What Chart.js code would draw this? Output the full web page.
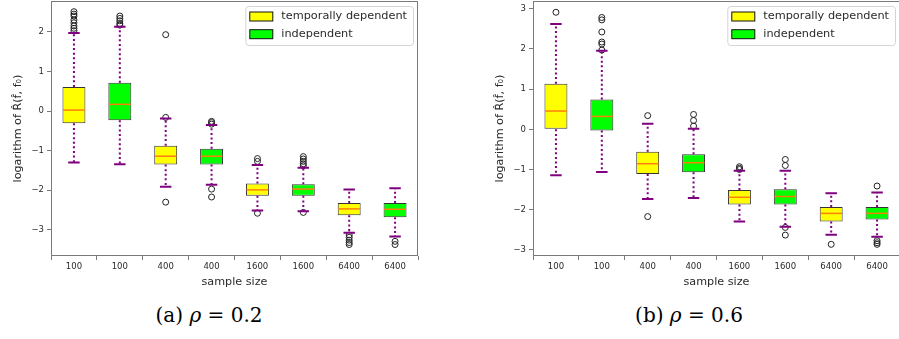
<!DOCTYPE html>
<html>
<head>
<meta charset="utf-8">
<script src="https://cdn.jsdelivr.net/npm/chart.js@4.4.1/dist/chart.umd.min.js"></script>
<style>
html,body{margin:0;padding:0;background:#fff;overflow:hidden;width:899px;height:339px;}
#wrapA{position:absolute;left:0;top:-3px;width:430px;height:303px;}
#wrapB{position:absolute;left:482px;top:-3px;width:422px;height:303px;}
.cap{position:absolute;top:302px;font-family:"DejaVu Serif","Liberation Serif",serif;font-size:20px;line-height:26px;color:#000;white-space:nowrap;transform:translateX(-50%);}
.cap i{font-style:italic;}
</style>
</head>
<body>
<div id="wrapA"><canvas id="chartA" width="430" height="303"></canvas></div>
<div id="wrapB"><canvas id="chartB" width="422" height="303"></canvas></div>
<div class="cap" style="left:209px;">(a) <i>ρ</i> = 0.2</div>
<div class="cap" style="left:689px;">(b) <i>ρ</i> = 0.6</div>
<script>
// ---------- data ----------
const categories = ["100","100","400","400","1600","1600","6400","6400"];
const seriesNames = ["temporally dependent","independent"];
const yTicksA = [-3,-2,-1,0,1,2];
const yTicksB = [-3,-2,-1,0,1,2,3];
const xTitle = "sample size";
const yTitle = "logarithm of R\u0302(f\u0302, f\u2080)";

// (a) rho = 0.2
const a_whiskLow  = [-1.30,-1.34,-1.91,-1.86,-2.51,-2.53,-3.07,-3.17];
const a_q1        = [-0.31,-0.23,-1.35,-1.35,-2.14,-2.14,-2.63,-2.68];
const a_median    = [0.025,0.17,-1.14,-1.14,-1.99,-1.97,-2.47,-2.48];
const a_q3        = [0.61,0.715,-0.875,-0.95,-1.83,-1.85,-2.32,-2.32];
const a_whiskHigh = [1.97,2.13,-0.185,-0.35,-1.36,-1.43,-1.98,-1.95];
const a_outliers = [
  [2.03,2.09,2.15,2.23,2.30,2.40,2.45,2.51],
  [2.17,2.21,2.28,2.34,2.40],
  [1.93,-0.16,-2.30],
  [-0.26,-0.29,-0.33,-1.97,-2.17],
  [-1.20,-1.27,-2.58],
  [-1.15,-1.21,-1.27,-1.33,-1.38,-2.56],
  [-3.13,-3.19,-3.26,-3.32,-3.37],
  [-3.29,-3.37]
];

// (b) rho = 0.6
const b_whiskLow  = [-1.145,-1.06,-1.735,-1.71,-2.29,-2.42,-2.62,-2.67];
const b_q1        = [0.0,-0.03,-1.11,-1.07,-1.87,-1.87,-2.29,-2.24];
const b_median    = [0.455,0.32,-0.855,-0.83,-1.69,-1.67,-2.09,-2.09];
const b_q3        = [1.135,0.74,-0.56,-0.62,-1.51,-1.49,-1.93,-1.93];
const b_whiskHigh = [2.62,1.95,0.14,0.015,-1.03,-1.03,-1.59,-1.57];
const b_outliers = [
  [2.91],
  [1.97,2.12,2.17,2.42,2.72,2.78],
  [0.34,-2.17],
  [0.08,0.22,0.37],
  [-0.93,-0.97,-1.0],
  [-0.75,-0.9,-2.44,-2.63],
  [-2.86],
  [-1.41,-2.77,-2.82,-2.86]
];

// ---------- styling ----------
const FILLS = ["#ffff00", "#00ff00"];
const SPINE = "#7a7a7a";
const TEXT = "#2a2a2a";
const PURPLE = "#800080";
const ORANGE = "#ff7f0e";
const FONT = "'DejaVu Sans', 'Liberation Sans', sans-serif";

const boxPlugin = {
  id: 'boxParts',
  afterDatasetsDraw(chart, args, opts) {
    const {ctx, scales: {x, y}} = chart;
    const st = opts.stats;
    const unit = Math.abs(x.getPixelForValue(1) - x.getPixelForValue(0));
    const halfBox = unit * 0.25;
    const halfCap = halfBox / 2;
    ctx.save();
    for (let i = 0; i < categories.length; i++) {
      const px = x.getPixelForValue(i);
      ctx.strokeStyle = PURPLE;
      ctx.lineWidth = 2;
      ctx.setLineDash([2, 2.6]);
      ctx.beginPath();
      ctx.moveTo(px, y.getPixelForValue(st.q3[i]));
      ctx.lineTo(px, y.getPixelForValue(st.hi[i]));
      ctx.moveTo(px, y.getPixelForValue(st.q1[i]));
      ctx.lineTo(px, y.getPixelForValue(st.lo[i]));
      ctx.stroke();
      ctx.setLineDash([]);
      ctx.beginPath();
      ctx.moveTo(px - halfCap, y.getPixelForValue(st.hi[i]));
      ctx.lineTo(px + halfCap, y.getPixelForValue(st.hi[i]));
      ctx.moveTo(px - halfCap, y.getPixelForValue(st.lo[i]));
      ctx.lineTo(px + halfCap, y.getPixelForValue(st.lo[i]));
      ctx.stroke();
      ctx.strokeStyle = ORANGE;
      ctx.lineWidth = 1.5;
      ctx.beginPath();
      const my = y.getPixelForValue(st.med[i]);
      ctx.moveTo(px - halfBox + 0.5, my);
      ctx.lineTo(px + halfBox - 0.5, my);
      ctx.stroke();
    }
    ctx.restore();
  },
  afterDraw(chart) {
    const {ctx, chartArea: a} = chart;
    ctx.save();
    ctx.strokeStyle = SPINE;
    ctx.lineWidth = 1;
    ctx.strokeRect(Math.round(a.left) + 0.5, Math.round(a.top) + 0.5,
                   Math.round(a.right - a.left) - 1, Math.round(a.bottom - a.top) - 1);
    ctx.font = "11.3px " + FONT;
    const tw = Math.max(...seriesNames.map(s => ctx.measureText(s).width));
    const w = 36 + tw + 6, h = 39;
    const bx = a.right - 5 - w, by = a.top + 5;
    ctx.beginPath();
    ctx.roundRect(bx + 0.5, by + 0.5, w, h, 3);
    ctx.fillStyle = "rgba(255,255,255,0.85)";
    ctx.fill();
    ctx.strokeStyle = "#d4d4d4";
    ctx.stroke();
    seriesNames.forEach((s, k) => {
      const cy = by + 10.5 + k * 17.7;
      ctx.fillStyle = FILLS[k];
      ctx.fillRect(bx + 4.5, cy - 4.5, 23, 9);
      ctx.strokeStyle = "#111";
      ctx.lineWidth = 1;
      ctx.strokeRect(bx + 4.5, cy - 4.5, 23, 9);
      ctx.fillStyle = TEXT;
      ctx.textBaseline = "middle";
      ctx.textAlign = "left";
      ctx.fillText(s, bx + 36, cy);
    });
    ctx.restore();
  }
};

function zeroPad(s) { s.paddingTop = 0; s.paddingBottom = 0; s.paddingLeft = 0; s.paddingRight = 0; }

function makeChart(id, st, out, yMin, yMax, yTicks) {
  const groupData = [0, 1].map(g => {
    const d = [];
    for (let i = g; i < categories.length; i += 2) d.push({x: i, y: [st.q1[i], st.q3[i]]});
    return d;
  });
  const outData = [];
  out.forEach((list, i) => list.forEach(v => outData.push({x: i, y: v})));
  return new Chart(document.getElementById(id), {
    type: 'bar',
    data: {
      datasets: [
        {label: seriesNames[0], data: groupData[0], backgroundColor: FILLS[0], borderColor: "#333",
         borderWidth: 1, borderSkipped: false, grouped: false, barPercentage: 0.5, categoryPercentage: 1},
        {label: seriesNames[1], data: groupData[1], backgroundColor: FILLS[1], borderColor: "#333",
         borderWidth: 1, borderSkipped: false, grouped: false, barPercentage: 0.5, categoryPercentage: 1},
        {type: 'scatter', label: 'outliers', data: outData, pointRadius: 3, pointHoverRadius: 3,
         borderColor: "#222", borderWidth: 1, backgroundColor: "rgba(0,0,0,0)", showLine: false}
      ]
    },
    options: {
      responsive: false,
      animation: false,
      events: [],
      layout: {padding: {left: 0, right: id === 'chartA' ? 12 : 1, top: 1, bottom: 0}},
      plugins: {legend: {display: false}, tooltip: {enabled: false}, boxParts: {stats: st}},
      scales: {
        x: {
          type: 'linear', min: -0.5, max: 7.5, offset: false,
          afterBuildTicks: s => { s.ticks = categories.map((c, i) => ({value: i})); },
          afterFit: s => { s.height = 44; zeroPad(s); },
          border: {display: false},
          grid: {drawOnChartArea: false, drawTicks: true, tickLength: 4, color: SPINE},
          ticks: {callback: v => categories[v], font: {family: FONT, size: 8.5}, color: TEXT,
                  padding: 2, maxRotation: 0, autoSkip: false},
          title: {display: true, text: xTitle, font: {family: FONT, size: 11.2}, color: TEXT,
                  padding: {top: 0, bottom: 11}}
        },
        y: {
          min: yMin, max: yMax,
          afterBuildTicks: s => { s.ticks = yTicks.map(v => ({value: v})); },
          afterFit: s => { s.width = 51; zeroPad(s); },
          border: {display: false},
          grid: {drawOnChartArea: false, drawTicks: true, tickLength: 4, color: SPINE},
          ticks: {callback: v => (v < 0 ? "\u2212" + Math.abs(v) : String(v)),
                  font: {family: FONT, size: 8.5}, color: TEXT, padding: 3},
          title: {display: true, text: yTitle, font: {family: FONT, size: 11.2}, color: TEXT,
                  padding: {top: 11, bottom: 0}}
        }
      }
    },
    plugins: [boxPlugin]
  });
}

makeChart('chartA',
  {lo: a_whiskLow, q1: a_q1, med: a_median, q3: a_q3, hi: a_whiskHigh},
  a_outliers, -3.66, 2.78, yTicksA);
makeChart('chartB',
  {lo: b_whiskLow, q1: b_q1, med: b_median, q3: b_q3, hi: b_whiskHigh},
  b_outliers, -3.15, 3.19, yTicksB);
</script>
</body>
</html>
